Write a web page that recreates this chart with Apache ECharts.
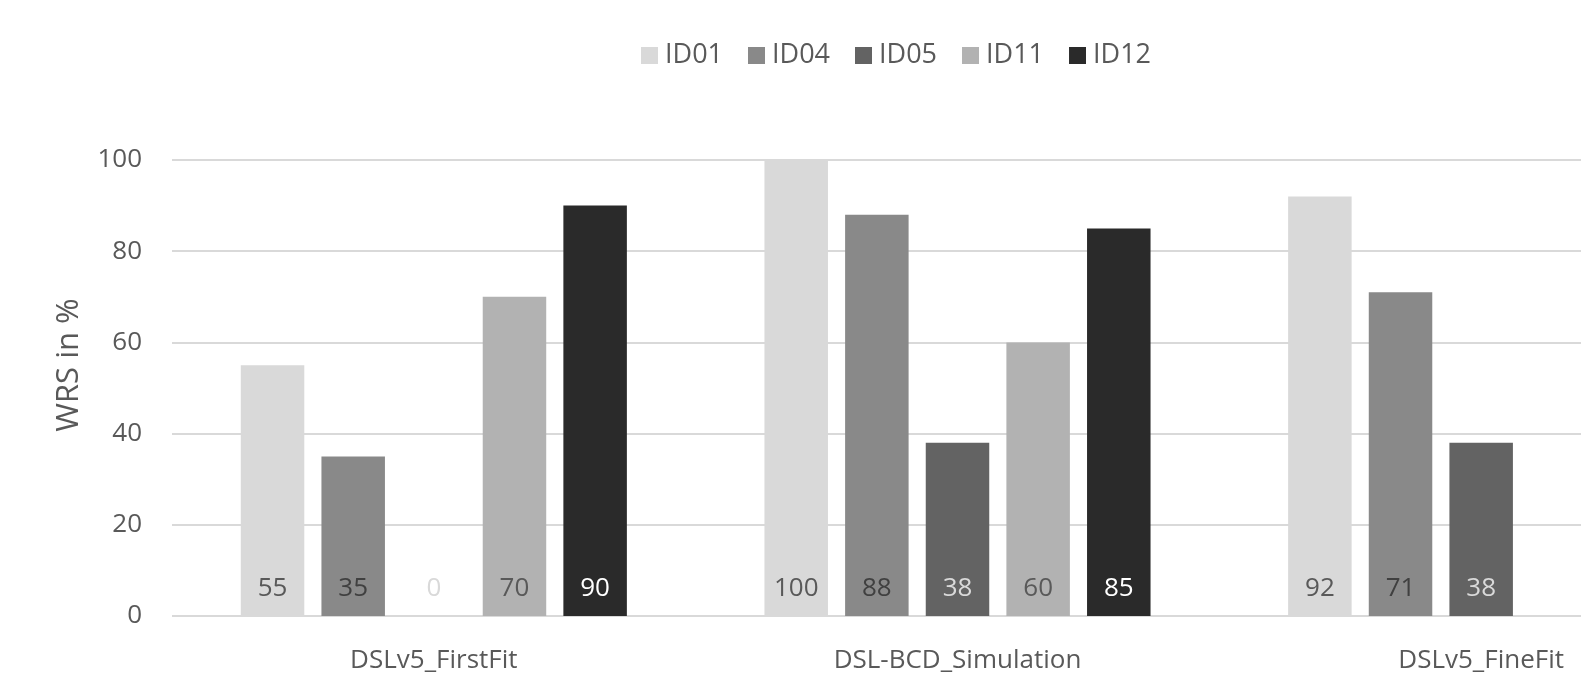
<!DOCTYPE html>
<html><head><meta charset="utf-8">
<script src="https://cdn.jsdelivr.net/npm/echarts@6/dist/echarts.min.js"></script>
<style>html,body{margin:0;padding:0;background:#fff;width:1581px;height:687px;overflow:hidden}#c{width:1743px;height:687px}</style>
</head><body><div id="c"></div>
<script>
const categories = ['DSLv5_FirstFit', 'DSL-BCD_Simulation', 'DSLv5_FineFit'];
const seriesNames = ['ID01', 'ID04', 'ID05', 'ID11', 'ID12'];
const ID01 = [55, 100, 92];
const ID04 = [35, 88, 71];
const ID05 = [0, 38, 38];
const ID11 = [70, 60, null];
const ID12 = [90, 85, null];
const yTicks = [0, 20, 40, 60, 80, 100];

const values = [ID01, ID04, ID05, ID11, ID12];
const colors = ['#d9d9d9', '#898989', '#636363', '#b2b2b2', '#2a2a2a'];
const labelColors = ['#595959', '#404040', '#d9d9d9', '#595959', '#ffffff'];
const FONT = 'Open Sans';

const chart = echarts.init(document.getElementById('c'), null, {renderer: 'canvas'});
chart.setOption({
  animation: false,
  textStyle: {fontFamily: FONT},
  legend: {
    left: 636, top: 37,
    itemWidth: 17, itemHeight: 17, itemGap: 25,
    icon: 'rect',
    textStyle: {fontFamily: FONT, fontSize: 27, color: '#595959', padding: [0, 0, 0, 2]},
    data: seriesNames
  },
  grid: {left: 172, right: 0, top: 160, bottom: 71, containLabel: false},
  xAxis: {
    type: 'category', data: categories,
    axisLine: {show: false}, axisTick: {show: false},
    axisLabel: {fontFamily: FONT, fontSize: 26, color: '#595959', margin: 32}
  },
  yAxis: {
    type: 'value', min: yTicks[0], max: yTicks[yTicks.length - 1], interval: 20,
    name: 'WRS in %', nameLocation: 'middle', nameGap: 87, nameRotate: 90,
    nameTextStyle: {fontFamily: FONT, fontSize: 31, color: '#595959', padding: [0, 0, 0, 46]},
    axisLine: {show: false}, axisTick: {show: false},
    axisLabel: {fontFamily: FONT, fontSize: 26, color: '#595959', margin: 30},
    splitLine: {lineStyle: {color: '#d9d9d9', width: 2}}
  },
  series: seriesNames.map((n, i) => ({
    name: n, type: 'bar', data: values[i],
    barWidth: 63.5, barGap: '27%',
    itemStyle: {color: colors[i]},
    label: {show: true, position: 'insideBottom', distance: 14,
      fontFamily: FONT, fontSize: 26, color: labelColors[i]}
  }))
});
</script></body></html>
